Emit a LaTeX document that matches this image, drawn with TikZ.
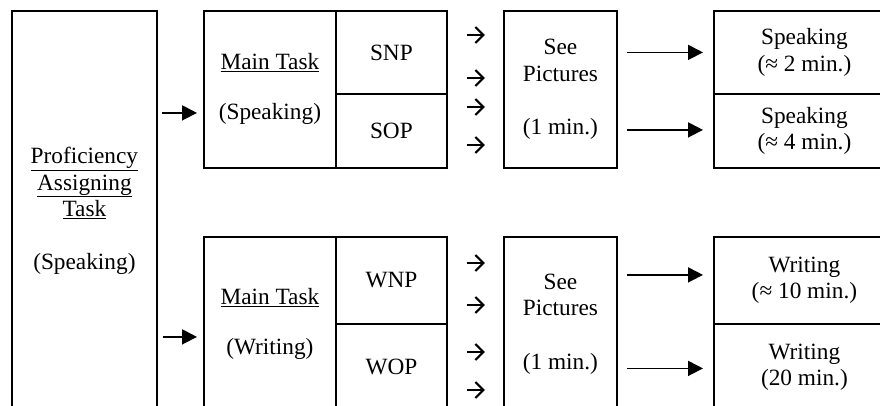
\documentclass[tikz,border=0pt]{standalone}
\usepackage{fontspec}
\setmainfont{Liberation Serif}
\usetikzlibrary{arrows.meta,calc,positioning}
\tikzset{
box/.style={draw, line width=1.8pt, anchor=north west, align=center, inner sep=0pt},
bigarrow/.style={-{Triangle[length=15pt,width=15pt]}, line width=1.8pt},
smallarrow/.style={-{Straight Barb[length=8pt,width=16pt]}, line width=2pt}
}
\begin{document}
\begin{tikzpicture}[x=1pt,y=-1pt,font=\fontsize{23.3}{26.5}\selectfont]
\useasboundingbox (0,0) rectangle (880,405);
\clip (0,0) rectangle (880,405);
\node[box, minimum width=145pt, minimum height=400pt] (pat) at (11,10) {\underline{Proficiency}\\ \underline{Assigning}\\ \underline{Task}\\[26.5pt] (Speaking)};
\node[box, minimum width=132pt, minimum height=157pt] (mts) at (203,10) {\underline{Main Task}\\[23.5pt] (Speaking)};
\node[box, minimum width=111pt, minimum height=83pt] (snp) at (335,10) {SNP};
\node[box, minimum width=111pt, minimum height=74pt] (sop) at (335,93) {SOP};
\node[box, minimum width=113pt, minimum height=157pt] (sps) at (503,10) {See\\ Pictures\\[27pt] (1 min.)};
\node[box, minimum width=181pt, minimum height=83pt] (rs1) at (713,10) {Speaking\\ (≈ 2 min.)};
\node[box, minimum width=181pt, minimum height=74pt] (rs2) at (713,93) {Speaking\\ (≈ 4 min.)};
\node[box, minimum width=132pt, minimum height=174pt] (mtw) at (203,236) {\underline{Main Task}\\[23.5pt] (Writing)};
\node[box, minimum width=111pt, minimum height=87pt] (wnp) at (335,236) {WNP};
\node[box, minimum width=111pt, minimum height=87pt] (wop) at (335,323) {WOP};
\node[box, minimum width=113pt, minimum height=174pt] (spw) at (503,236) {See\\ Pictures\\[27pt] (1 min.)};
\node[box, minimum width=181pt, minimum height=87pt] (rw1) at (713,236) {Writing\\ (≈ 10 min.)};
\node[box, minimum width=181pt, minimum height=87pt] (rw2) at (713,323) {Writing\\ (20 min.)};
\coordinate (ins) at ([yshift=-23.5pt]mts.west);
\coordinate (inw) at ([yshift=-13pt]mtw.west);
\draw[bigarrow] ($(pat.east |- ins)+(4,0)$) -- ($(ins)+(-6,0)$);
\draw[bigarrow] ($(pat.east |- inw)+(5,0)$) -- ($(inw)+(-6,0)$);
\foreach \y in {35,78,107,145,263,305,352,390}
\draw[smallarrow] ($(snp.east |- 0,\y)+(19,0)$) -- ++(18,0);
\foreach \s/\r/\d in {sps/rs1/0,sps/rs2/-1,spw/rw1/-5.5,spw/rw2/1}
\draw[bigarrow] ($(\s.east |- \r.west)+(9,\d)$) -- ($(\r.west)+(-10,\d)$);
\end{tikzpicture}
\end{document}
